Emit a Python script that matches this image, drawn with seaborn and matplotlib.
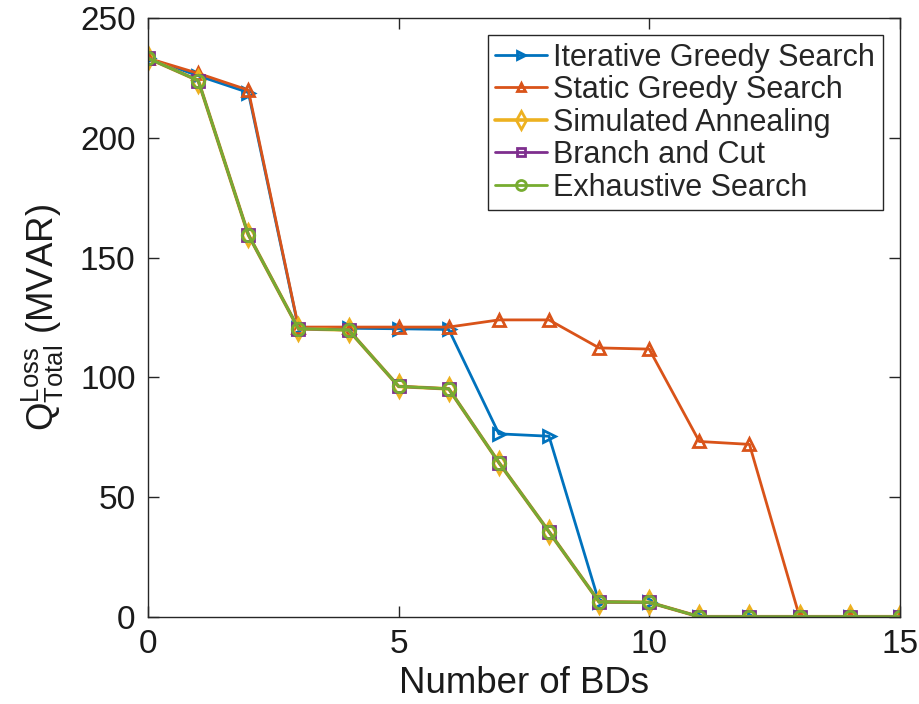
# Q_loss vs number of BDs, MATLAB-style line chart

import numpy as np
import pandas as pd
import matplotlib
matplotlib.use("Agg")
import matplotlib.pyplot as plt
import seaborn as sns

# ── Data ─────────────────────────────────────────────────────
n_bds = list(range(16))

iterative_greedy = [233.3, 226.0, 219.0, 120.6, 120.5, 120.3, 120.0, 76.4, 75.4,
                    6.0, 6.0, 0, 0, 0, 0, 0]
static_greedy    = [233.3, 227.0, 220.0, 121.0, 121.0, 121.0, 121.0, 124.0, 124.0,
                    112.3, 111.8, 73.2, 72.0, 0, 0, 0]
simulated_ann    = [233.3, 224.0, 159.6, 120.3, 119.8, 96.2, 95.2, 64.4, 35.5,
                    6.2, 6.0, 0, 0, 0, 0, 0]
branch_and_cut   = [233.3, 224.0, 159.6, 120.3, 119.8, 96.2, 95.2, 64.4, 35.5,
                    6.2, 6.0, 0, 0, 0, 0, 0]
exhaustive       = [233.3, 224.0, 159.6, 120.3, 119.8, 96.2, 95.2, 64.4, 35.5,
                    6.2, 6.0, 0, 0, 0, 0, 0]

labels  = ["Iterative Greedy Search", "Static Greedy Search", "Simulated Annealing",
           "Branch and Cut", "Exhaustive Search"]
series  = [iterative_greedy, static_greedy, simulated_ann, branch_and_cut, exhaustive]
colors  = ["#0072BD", "#D95319", "#EDB120", "#7E2F8E", "#77AC30"]
markers = [">", "^", "d", "s", "o"]
msizes  = [8, 8, 11, 8, 9]
lwidths = [2.0, 2.0, 2.6, 2.0, 2.0]

# ── Style ────────────────────────────────────────────────────
sns.set_theme(style="ticks")
plt.rcParams["font.family"] = ["Liberation Sans", "DejaVu Sans"]
plt.rcParams["mathtext.default"] = "regular"

fig = plt.figure(figsize=(9.2, 7.04), dpi=100)
ax = fig.add_axes([0.161, 0.124, 0.817, 0.850])

for y, lab, c, m, ms, lw in zip(series, labels, colors, markers, msizes, lwidths):
    df = pd.DataFrame({"x": n_bds, "y": y})
    sns.lineplot(data=df, x="x", y="y", ax=ax, color=c, marker=m, markersize=ms,
                 markerfacecolor="none", markeredgecolor=c, markeredgewidth=2,
                 linewidth=lw, label=lab)

ax.set_xlim(0, 15)
ax.set_ylim(0, 250)
ax.set_xticks([0, 5, 10, 15])
ax.set_yticks([0, 50, 100, 150, 200, 250])
ax.tick_params(direction="in", length=8, width=1, labelsize=24, top=True, right=True,
               colors="#262626", labelcolor="#1a1a1a", pad=9)
for s in ax.spines.values():
    s.set_color("#262626")
    s.set_linewidth(1)

ax.set_xlabel("Number of BDs", fontsize=26.4, labelpad=4, color="#1a1a1a")
ax.set_ylabel("Q$^{Loss}_{Total}$ (MVAR)", fontsize=26.4, labelpad=10, color="#1a1a1a")

leg = ax.legend(loc="upper right", fontsize=22, handlelength=1.7, handletextpad=0.2,
                labelspacing=0.08, borderpad=0.25, borderaxespad=0.55, fancybox=False,
                framealpha=1, edgecolor="#262626", markerscale=0.8)
leg.get_frame().set_linewidth(1)

fig.savefig("out.png", dpi=100)
